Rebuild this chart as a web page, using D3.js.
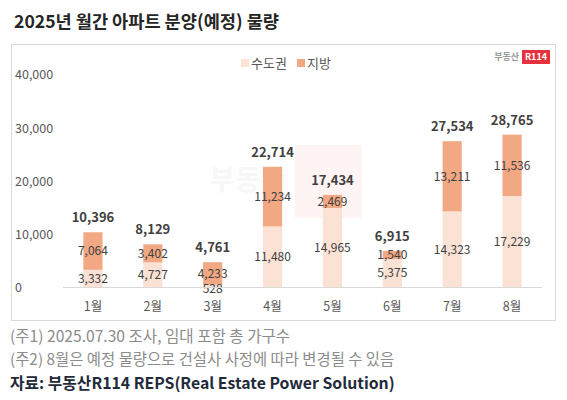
<!DOCTYPE html>
<html><head><meta charset="utf-8">
<script src="https://cdn.jsdelivr.net/npm/d3@7"></script>
<style>
html,body{margin:0;padding:0;background:#fff;}
svg{display:block;font-family:"Noto Sans CJK KR","Noto Sans",sans-serif;}
</style></head>
<body><svg id="c" width="567" height="400"></svg>
<script>
const months = ["1월","2월","3월","4월","5월","6월","7월","8월"];
const metro = [3332,4727,528,11480,14965,5375,14323,17229];   // 수도권
const local = [7064,3402,4233,11234,2469,1540,13211,11536];   // 지방
const yTicks = [0,10000,20000,30000,40000];
const seriesNames = ["수도권","지방"];
const colors = ["#FBE2D5","#F2A882"];

const svg = d3.select("#c");
const fmt = d3.format(",");

// title
svg.append("text").attr("x",14).attr("y",28).attr("font-size",17.6).attr("font-weight",700)
  .attr("fill","#262626").text("2025년 월간 아파트 분양(예정) 물량");

// chart box
svg.append("rect").attr("x",11.5).attr("y",44.5).attr("width",544).attr("height",276)
  .attr("fill","#fff").attr("stroke","#d9d9d9");

// watermark
svg.append("rect").attr("x",295).attr("y",145).attr("width",67).attr("height",73).attr("fill","#FEF4F4");
svg.append("text").attr("x",248).attr("y",190).attr("text-anchor","middle").attr("font-size",28)
  .attr("font-weight",700).attr("fill","#F7F7F7").text("부동산");

const x = d3.scaleBand().domain(months).range([63,542]).paddingInner(0.68).paddingOuter(0.34);
const y = d3.scaleLinear().domain([0,40000]).range([287.5,75]);

// y axis labels
svg.append("g").selectAll("text").data(yTicks).join("text")
  .attr("x",15).attr("y",d=>y(d)).attr("dy","0.35em").attr("font-size",12.5).attr("fill","#595959")
  .text(d=>fmt(d));

const table = months.map((m,i)=>({month:m, "수도권":metro[i], "지방":local[i]}));
const stack = d3.stack().keys(seriesNames)(table);

const g = svg.append("g");
stack.forEach((s,si)=>{
  g.append("g").selectAll("rect").data(s).join("rect")
    .attr("x",d=>x(d.data.month)).attr("width",x.bandwidth())
    .attr("y",d=>y(d[1])).attr("height",d=>y(d[0])-y(d[1]))
    .attr("fill",colors[si]);
});

// axis line
svg.append("line").attr("x1",63).attr("x2",542).attr("y1",287.5).attr("y2",287.5)
  .attr("stroke","#d9d9d9").attr("stroke-width",1);

// segment labels
stack.forEach((s,si)=>{
  g.append("g").selectAll("text").data(s).join("text")
    .attr("x",d=>x(d.data.month)+x.bandwidth()/2)
    .attr("y",d=>{ const h=y(d[0])-y(d[1]); let c=(y(d[0])+y(d[1]))/2; if(h<5) c=y(d[0])+1.5; return c; })
    .attr("dy","0.35em").attr("text-anchor","middle").attr("font-size",12).attr("fill","#404040")
    .text(d=>fmt(d[1]-d[0]));
});

// totals
g.append("g").selectAll("text").data(table).join("text")
  .attr("x",d=>x(d.month)+x.bandwidth()/2)
  .attr("y",d=>y(d["수도권"]+d["지방"])-10)
  .attr("text-anchor","middle").attr("font-size",13).attr("font-weight",700).attr("fill","#404040")
  .text(d=>fmt(d["수도권"]+d["지방"]));

// x labels
svg.append("g").selectAll("text").data(months).join("text")
  .attr("x",d=>x(d)+x.bandwidth()/2).attr("y",307).attr("dy","0.35em")
  .attr("text-anchor","middle").attr("font-size",12.5).attr("fill","#595959").text(d=>d);

// legend
const leg = svg.append("g");
const legX = [241,297];
seriesNames.forEach((n,i)=>{
  leg.append("rect").attr("x",legX[i]).attr("y",59).attr("width",8).attr("height",8).attr("fill",colors[i]);
  leg.append("text").attr("x",legX[i]+10).attr("y",63).attr("dy","0.35em").attr("font-size",13)
    .attr("fill","#595959").text(n);
});

// logo
svg.append("text").attr("x",519).attr("y",57).attr("dy","0.35em").attr("text-anchor","end")
  .attr("font-size",9).attr("font-weight",700).attr("fill","#9a9a9a").text("부동산");
svg.append("rect").attr("x",522).attr("y",50).attr("width",28).attr("height",14).attr("fill","#E5323E");
svg.append("text").attr("x",536).attr("y",57).attr("dy","0.35em").attr("text-anchor","middle")
  .attr("font-size",9).attr("font-weight",700).attr("fill","#fff").text("R114");

// footer
svg.append("text").attr("x",10).attr("y",337).attr("dy","0.35em").attr("font-size",15.6).attr("fill","#8c8c8c")
  .text("(주1) 2025.07.30 조사, 임대 포함 총 가구수");
svg.append("text").attr("x",10).attr("y",360).attr("dy","0.35em").attr("font-size",15.4).attr("fill","#8c8c8c")
  .text("(주2) 8월은 예정 물량으로 건설사 사정에 따라 변경될 수 있음");
svg.append("text").attr("x",10).attr("y",383).attr("dy","0.35em").attr("font-size",15.8).attr("font-weight",700).attr("fill","#1f2a3a")
  .text("자료: 부동산R114 REPS(Real Estate Power Solution)");
</script></body></html>
